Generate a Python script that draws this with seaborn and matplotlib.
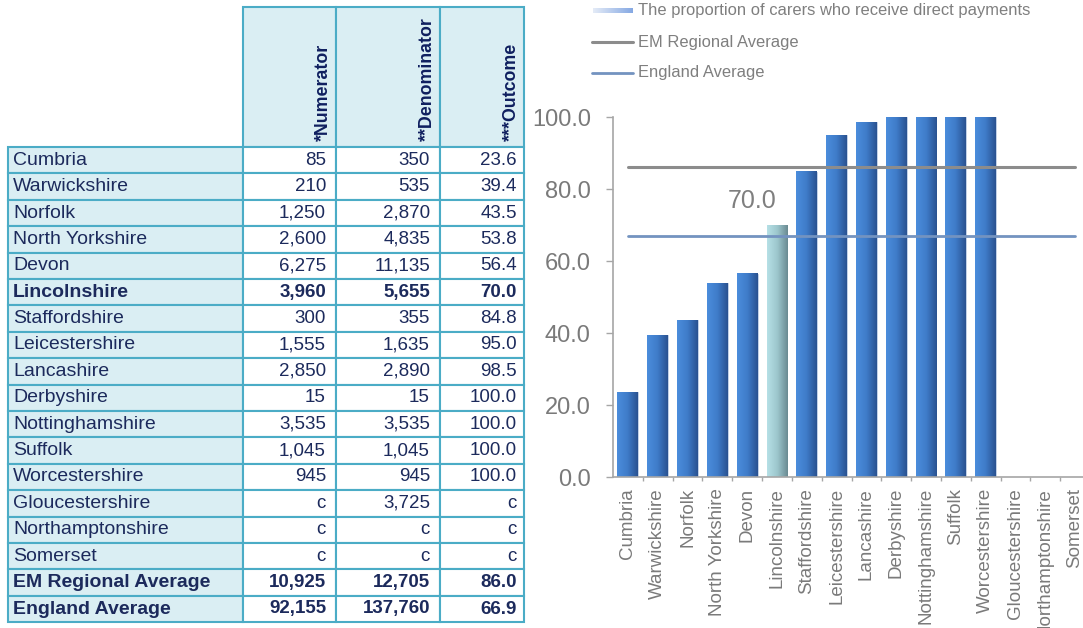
import numpy as np
import pandas as pd
import matplotlib
matplotlib.use('Agg')
import matplotlib.pyplot as plt
from matplotlib.patches import Rectangle
from matplotlib.colors import LinearSegmentedColormap
import seaborn as sns

# data
areas = ['Cumbria', 'Warwickshire', 'Norfolk', 'North Yorkshire', 'Devon',
         'Lincolnshire', 'Staffordshire', 'Leicestershire', 'Lancashire',
         'Derbyshire', 'Nottinghamshire', 'Suffolk', 'Worcestershire',
         'Gloucestershire', 'Northamptonshire', 'Somerset']
numerator = [85, 210, 1250, 2600, 6275, 3960, 300, 1555, 2850, 15, 3535,
             1045, 945, None, None, None]
denominator = [350, 535, 2870, 4835, 11135, 5655, 355, 1635, 2890, 15, 3535,
               1045, 945, 3725, None, None]
outcome = [23.6, 39.4, 43.5, 53.8, 56.4, 70.0, 84.8, 95.0, 98.5, 100.0,
           100.0, 100.0, 100.0, None, None, None]
avg_names = ['EM Regional Average', 'England Average']
avg_numerator = [10925, 92155]
avg_denominator = [12705, 137760]
avg_outcome = [86.0, 66.9]
highlight = 'Lincolnshire'
headers = ['*Numerator', '**Denominator', '***Outcome']
legend_labels = ['The proportion of carers who receive direct payments',
                 'EM Regional Average', 'England Average']

sns.set_style('white')
plt.rcParams['font.family'] = ['Liberation Sans', 'DejaVu Sans']

W, H = 1083, 628
fig = plt.figure(figsize=(W / 100, H / 100), dpi=100)

# overlay in pixel coordinates for the table and legend
bg = fig.add_axes([0, 0, 1, 1])
bg.set_xlim(0, W)
bg.set_ylim(H, 0)
bg.axis('off')

border = '#4bacc6'
fill = '#daeef3'
txt = '#1c2a5c'

col_x = [8, 243, 336, 440, 524]
top, head_bot = 7, 147
row_h = 26.4


def fmt_int(v):
    return 'c' if v is None else f'{v:,}'


def fmt_pct(v):
    return 'c' if v is None else f'{v:.1f}'


rows = []
for a, n, d, o in zip(areas, numerator, denominator, outcome):
    rows.append((a, fmt_int(n), fmt_int(d), fmt_pct(o), a == highlight))
for a, n, d, o in zip(avg_names, avg_numerator, avg_denominator, avg_outcome):
    rows.append((a, fmt_int(n), fmt_int(d), fmt_pct(o), True))

# header cells
for j, h in enumerate(headers):
    x0, x1 = col_x[j + 1], col_x[j + 2]
    bg.add_patch(Rectangle((x0, top), x1 - x0, head_bot - top, facecolor=fill,
                           edgecolor=border, lw=1.5))
    bg.text(x1 - 13, head_bot - 6, h, rotation=90, ha='center', va='bottom',
            fontsize=12.8, fontweight='bold', color='#0f1f5f')

pads = [10, 10, 7]
for i, r in enumerate(rows):
    y0 = head_bot + i * row_h
    yc = y0 + row_h / 2
    wt = 'bold' if r[4] else 'normal'
    bg.add_patch(Rectangle((col_x[0], y0), col_x[1] - col_x[0], row_h,
                           facecolor=fill, edgecolor=border, lw=1.5))
    bg.text(col_x[0] + 5, yc, r[0], ha='left', va='center', fontsize=14,
            color=txt, fontweight=wt)
    for j in range(3):
        x0, x1 = col_x[j + 1], col_x[j + 2]
        bg.add_patch(Rectangle((x0, y0), x1 - x0, row_h, facecolor='white',
                               edgecolor=border, lw=1.5))
        bg.text(x1 - pads[j], yc, r[j + 1], ha='right', va='center',
                fontsize=13.5, color=txt, fontweight=wt)

# legend
grey_txt = '#7f7f7f'
leg_grad = LinearSegmentedColormap.from_list('lg', ['#e4ebf7', '#86a9e3'])
bg.imshow(np.linspace(0, 1, 64).reshape(1, -1), extent=[593, 633, 13.5, 8.5],
          aspect='auto', cmap=leg_grad)
bg.set_xlim(0, W)
bg.set_ylim(H, 0)
bg.plot([592, 633], [42, 42], color='#8c8c8c', lw=2.2)
bg.plot([592, 633], [73, 73], color='#7393c0', lw=2.0)
for lab, y in zip(legend_labels, [11, 42, 73]):
    bg.text(638, y, lab, ha='left', va='center', fontsize=11.9, color=grey_txt)

# bar chart
ax = fig.add_axes([613 / W, (H - 477) / H, 477 / W, 360 / H])
df = pd.DataFrame({'area': areas, 'value': outcome}).dropna()
palette = {a: ('#a0ccd4' if a == highlight else '#3d78c6') for a in areas}
sns.barplot(data=df, x='area', y='value', order=areas, hue='area',
            palette=palette, width=0.7, legend=False, ax=ax,
            edgecolor='#c8d6ea', linewidth=0.6)

blue = LinearSegmentedColormap.from_list('b', ['#4b8ddc', '#3f7cc9', '#2a5291'])
teal = LinearSegmentedColormap.from_list('t', ['#b6e0e6', '#9cc6cc', '#6a8a92'])
grad = np.linspace(0, 1, 64).reshape(1, -1)
hi = areas.index(highlight)
for p in ax.patches:
    x0, y0 = p.get_x(), p.get_y()
    w, h = p.get_width(), p.get_height()
    if not np.isfinite(h) or h <= 0:
        continue
    cm = teal if round(x0 + w / 2) == hi else blue
    ax.imshow(grad, extent=[x0, x0 + w, y0, y0 + h], aspect='auto',
              cmap=cm, zorder=2, clip_on=False)

idx = np.arange(len(areas))
ax.plot(idx, np.full(len(areas), avg_outcome[0]), color='#8c8c8c', lw=2.2,
        zorder=3, clip_on=False)
ax.plot(idx, np.full(len(areas), avg_outcome[1]), color='#7393c0', lw=2.0,
        zorder=3, clip_on=False)

ax.annotate(f'{outcome[hi]:.1f}', (hi, outcome[hi]), xytext=(-18, 9),
            textcoords='offset points', ha='center', va='bottom',
            fontsize=18, color=grey_txt)

ax.set_xlim(-0.5, len(areas) - 0.5)
ax.set_ylim(0, 100)
ax.set_yticks(np.arange(0, 101, 20))
ax.set_yticklabels([f'{v:.1f}' for v in np.arange(0, 101, 20)])
ax.set_xticks(idx)
ax.set_xticklabels(areas, rotation=90)
ax.set_xticks(idx[:-1] + 0.5, minor=True)
ax.set_xlabel('')
ax.set_ylabel('')
ax.set_aspect('auto')
for s in ['top', 'right']:
    ax.spines[s].set_visible(False)
for s in ['left', 'bottom']:
    ax.spines[s].set_color('#a6a6a6')
    ax.spines[s].set_linewidth(1.2)
ax.tick_params(axis='y', direction='out', length=5, width=1, color='#a6a6a6',
               pad=11, labelsize=17, labelcolor='#7a7a7a', left=True)
ax.tick_params(axis='x', which='major', length=0, pad=8, labelsize=13.5,
               labelcolor='#7a7a7a')
ax.tick_params(axis='x', which='minor', direction='out', length=3, width=1,
               color='#a6a6a6', bottom=True)
ax.patch.set_alpha(0)

fig.savefig('out.png', dpi=100)
